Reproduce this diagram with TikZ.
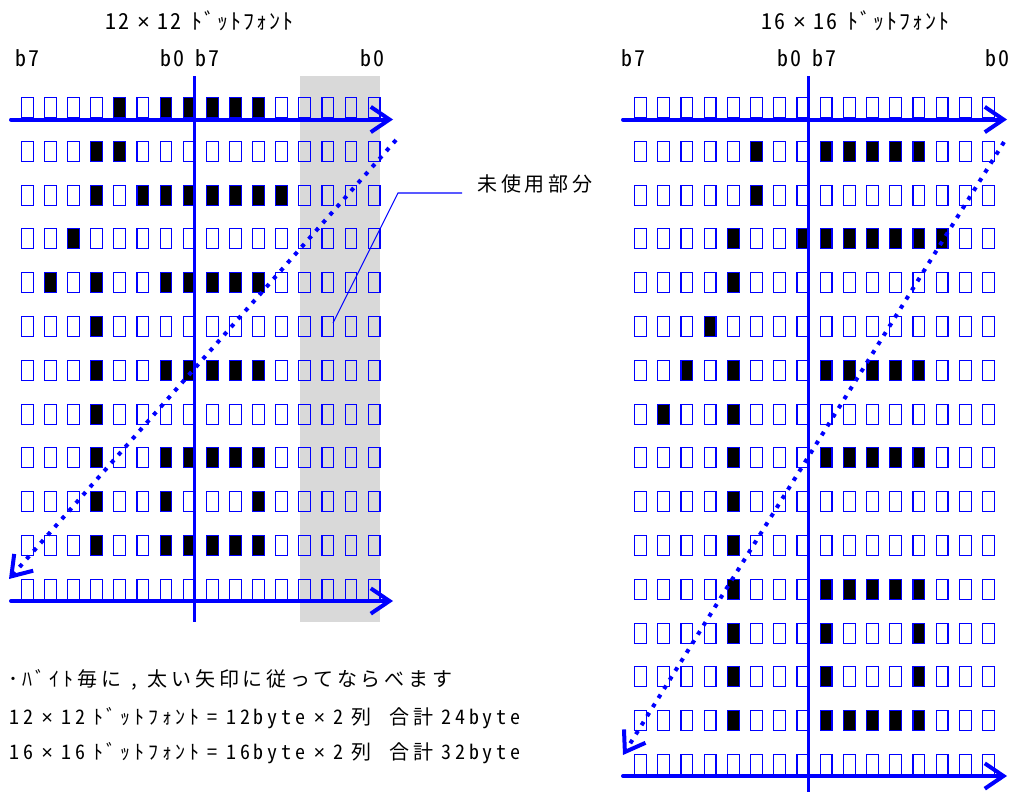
\documentclass[tikz,border=0pt]{standalone}
\usepackage{fontspec}
\setmainfont{Noto Sans CJK JP}
\newfontfamily\jpA{Noto Sans CJK JP}[RawFeature=+hwid, LetterSpace=9, WordSpace=0.6]
\newfontfamily\jpB{Noto Sans CJK JP}[RawFeature=+hwid, LetterSpace=19, WordSpace=0.6]
\newfontfamily\latX{Liberation Sans}
\newcommand{\mulX}{{\latX ×}}
\usetikzlibrary{arrows.meta}
\begin{document}
\begin{tikzpicture}[x=0.75pt,y=-0.75pt,
  cell/.style={draw=blue, line width=0.85pt, minimum width=8.8pt, minimum height=15pt, inner sep=0pt, outer sep=0pt},
  dotcell/.style={cell, fill=black},
  bigarrow/.style={blue, line width=3pt, line cap=round, -{Straight Barb[length=14pt,width=19pt,line width=3pt]}},
  dotarrow/.style={blue, line width=3pt, dash pattern=on 3pt off 5pt, -{Straight Barb[length=14pt,width=19pt,line width=3pt]}},
  axis/.style={blue, line width=1.8pt},
  lbl/.style={font=\jpA\fontsize{16.5pt}{19pt}\selectfont, inner sep=0pt, anchor=base west},
  txt/.style={font=\jpB\fontsize{15pt}{17pt}\selectfont, inner sep=0pt, anchor=base west},
  leader/.style={blue, line width=0.8pt}
]
\useasboundingbox (0,0) rectangle (1019,792);
% unused area
\fill[gray!30] (300,76) rectangle (380,622);
% left grid cells
\foreach \r in {0,...,11} \foreach \c in {0,...,15}
  \node[cell] (L-\r-\c) at ({27.2+23.13*\c},{107.5+43.8*\r}) {};
\foreach \r/\cs in {0/{4,6,7,8,9,10},1/{3,4},2/{3,5,6,7,8,9,10,11},3/{2},4/{1,3,6,7,8,9,10},5/{3},6/{3,6,7,8,9,10},7/{3},8/{3,6,7,8,9,10},9/{3,6,10},10/{3,6,7,8,9,10}}
  \foreach \c in \cs
    \node[dotcell] (LB-\r-\c) at ({27.2+23.13*\c},{107.5+43.8*\r}) {};
% right grid cells
\foreach \r in {0,...,15} \foreach \c in {0,...,15}
  \node[cell] (R-\r-\c) at ({640.5+23.2*\c},{107.5+43.8*\r}) {};
\foreach \r/\cs in {1/{5,8,9,10,11,12},2/{5},3/{4,7,8,9,10,11,12,13},4/{4},5/{3},6/{2,4,8,9,10,11,12},7/{1,4},8/{4,8,9,10,11,12},9/{4},10/{4},11/{4,8,9,10,11,12},12/{4,8,12},13/{4,8,12},14/{4,8,9,10,11,12}}
  \foreach \c in \cs
    \node[dotcell] (RB-\r-\c) at ({640.5+23.2*\c},{107.5+43.8*\r}) {};
% left axes
\coordinate (LVt) at (194.5,76);
\coordinate (LVb) at (194.5,622);
\draw[axis] (LVt) -- (LVb);
\coordinate (LTa) at (11,119.5);
\coordinate (LTb) at (393,119.5);
\coordinate (LBa) at (11,601);
\coordinate (LBb) at (393,601);
\draw[bigarrow] (LTa) -- (LTb);
\draw[bigarrow] (LBa) -- (LBb);
\coordinate (LDa) at (396,140);
\coordinate (LDb) at (9,579);
\draw[dotarrow] (LDa) -- (LDb);
% right axes
\coordinate (RVt) at (808.5,76);
\coordinate (RVb) at (808.5,792);
\draw[axis] (RVt) -- (RVb);
\coordinate (RTa) at (623,119.5);
\coordinate (RTb) at (1007,119.5);
\coordinate (RBa) at (623,776);
\coordinate (RBb) at (1007,776);
\draw[bigarrow] (RTa) -- (RTb);
\draw[bigarrow] (RBa) -- (RBb);
\coordinate (RDa) at (1004,142);
\coordinate (RDb) at (623,755);
\draw[dotarrow] (RDa) -- (RDb);
% titles and bit labels
\node[lbl] (t1) at (105,30) {12 \mulX{} 12\hspace{0.45em}ﾄﾞｯﾄﾌｫﾝﾄ};
\node[lbl] (t2) at (761,30) {16 \mulX{} 16\hspace{0.45em}ﾄﾞｯﾄﾌｫﾝﾄ};
\node[lbl] (l1) at (15.5,66) {b7};
\node[lbl] (l2) at (160.5,66) {b0};
\node[lbl] (l3) at (195.5,66) {b7};
\node[lbl] (l4) at (360.5,66) {b0};
\node[lbl] (r1) at (621,66) {b7};
\node[lbl] (r2) at (777.5,66) {b0};
\node[lbl] (r3) at (812.5,66) {b7};
\node[lbl] (r4) at (985,66) {b0};
% unused-area label
\node[txt] (un) at (477,191) {未使用部分};
\coordinate (ua) at (333,323);
\coordinate (ub) at (398,193);
\coordinate (uc) at (462,193);
\draw[leader] (ua) -- (ub) -- (uc);
% notes
\node[txt] (n1) at (8,686) {･ﾊﾞｲﾄ毎に , 太い矢印に従ってならべます};
\node[txt] (n2) at (9,724) {12 \mulX{} 12\hspace{0.4em}ﾄﾞｯﾄﾌｫﾝﾄ = 12byte \mulX{} 2 列　合計 24byte};
\node[txt] (n3) at (9,759) {16 \mulX{} 16\hspace{0.4em}ﾄﾞｯﾄﾌｫﾝﾄ = 16byte \mulX{} 2 列　合計 32byte};
\end{tikzpicture}
\end{document}
